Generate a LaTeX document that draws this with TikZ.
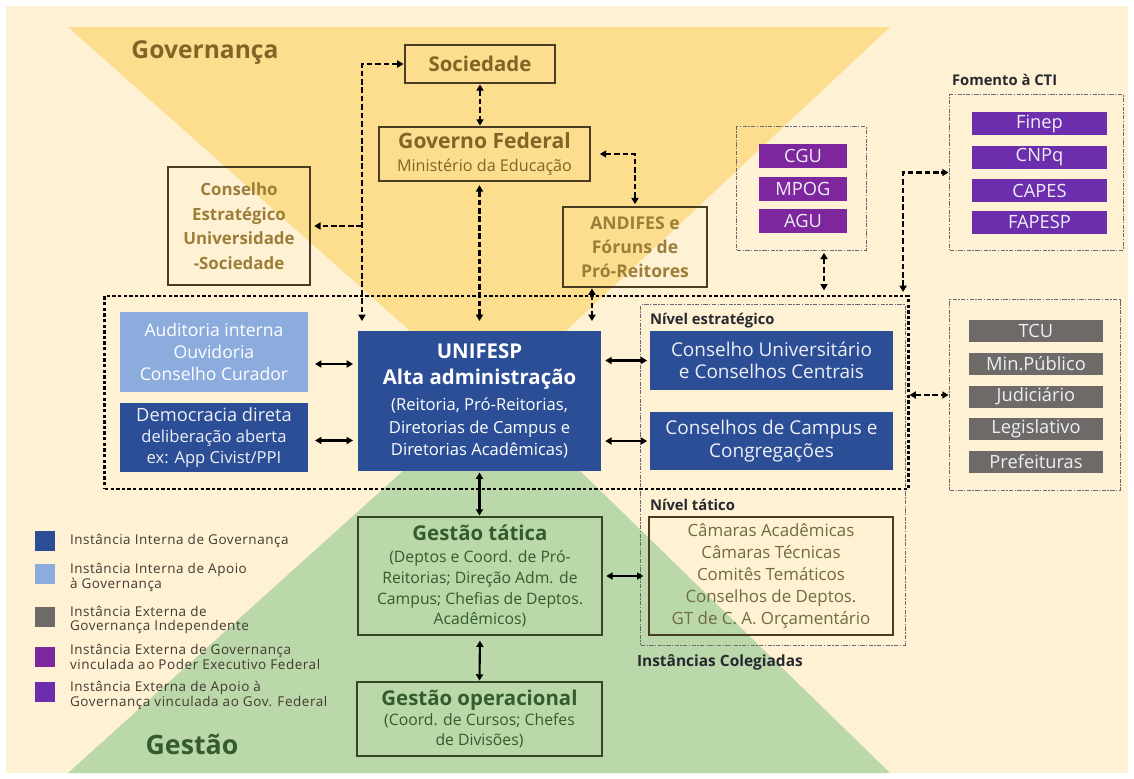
\documentclass[tikz,border=0pt]{standalone}
\usepackage{fontspec}
\setmainfont{Open Sans}
\usetikzlibrary{arrows.meta,calc}
\definecolor{cream}{RGB}{254,241,212}
\definecolor{gyellow}{RGB}{252,222,142}
\definecolor{ggreen}{RGB}{186,216,170}
\definecolor{dblue}{RGB}{44,78,150}
\definecolor{lblue}{RGB}{140,172,222}
\definecolor{egray}{RGB}{110,106,104}
\definecolor{mpurple}{RGB}{126,38,158}
\definecolor{vpurple}{RGB}{108,46,172}
\definecolor{bbrown}{RGB}{72,60,36}
\definecolor{tbrown}{RGB}{130,100,38}
\definecolor{tbrownl}{RGB}{156,126,56}
\definecolor{tgreen}{RGB}{52,92,44}
\definecolor{bgreen}{RGB}{52,72,40}
\definecolor{tolive}{RGB}{112,108,62}
\definecolor{lwhite}{RGB}{238,238,246}
\definecolor{dgray}{RGB}{105,105,118}
\definecolor{ltext}{RGB}{66,58,50}
\definecolor{labc}{RGB}{40,40,48}
\begin{document}
\begin{tikzpicture}[x=0.025cm,y=-0.025cm,
  every node/.style={inner sep=0pt, outer sep=0pt},
  >={Triangle[length=4.5pt,width=5pt]},
  ybox/.style={draw=bbrown, line width=1.6pt, align=center, text=tbrown},
  gbox/.style={draw=bgreen, line width=1.6pt, align=center, text=tgreen},
  fillbox/.style={fill=#1, align=center, text=lwhite},
  smallbox/.style={fillbox=#1, font=\fontsize{13}{15}\selectfont},
  grp/.style={draw=dgray, line width=0.7pt, dash pattern=on 3pt off 1pt on 1pt off 1pt},
  darr/.style={line width=1.9pt, dash pattern=on 4pt off 2pt, <->},
  sarr/.style={line width=1.5pt, <->},
  lab/.style={font=\bfseries\fontsize{10.5}{12}\selectfont, text=labc, anchor=west},
  leg/.style={anchor=west, align=left, font=\fontsize{9.6}{9.4}\selectfont\addfontfeatures{LetterSpace=4}, text=ltext},
  sq/.style={fill=#1, minimum size=0.5cm},
]
% background
\fill[white] (0,0) rectangle (1134,778);
\fill[cream] (6,6) rectangle (1128,773);
\fill[gyellow] (68,27) -- (890,27) -- (490,402) -- cycle;
\fill[ggreen] (68,773) -- (890,773) -- (495,388) -- cycle;

\node[font=\bfseries\fontsize{17.5}{20}\selectfont, text=tbrown] (tgov) at (205,53) {Governança};
\node[font=\bfseries\fontsize{19}{22}\selectfont, text=tgreen] (tges) at (192,745) {Gestão};

% top boxes
\node[ybox, minimum width=3.75cm, minimum height=0.95cm, font=\bfseries\fontsize{14.5}{16}\selectfont] (soc) at (480,64) {Sociedade};
\node[ybox, minimum width=5.275cm, minimum height=1.35cm, font=\fontsize{11.5}{16.3}\selectfont] (gov) at (484.5,154)
  {{\bfseries\fontsize{15}{17}\selectfont Governo Federal}\\{Ministério da Educação}};
\node[ybox, text=tbrownl, minimum width=3.55cm, minimum height=2.95cm, font=\bfseries\fontsize{12}{17.4}\selectfont] (cons) at (239,226)
  {Conselho\\Estratégico\\Universidade\\-Sociedade};
\node[ybox, text=tbrownl, minimum width=3.6cm, minimum height=2.0cm, font=\bfseries\fontsize{12.5}{17}\selectfont] (andifes) at (635,247)
  {ANDIFES e\\Fóruns de\\Pró-Reitores};

% external groups
\node[grp, minimum width=3.225cm, minimum height=3.075cm] (cgugrp) at (801.5,188.5) {};
\node[smallbox=mpurple, minimum width=2.2cm, minimum height=0.6cm] (cgu) at (803,156) {CGU};
\node[smallbox=mpurple, minimum width=2.2cm, minimum height=0.6cm] (mpog) at (803,188.5) {MPOG};
\node[smallbox=mpurple, minimum width=2.2cm, minimum height=0.6cm] (agu) at (803,221) {AGU};

\node[lab] (lfom) at (952,80) {Fomento à CTI};
\node[grp, minimum width=4.325cm, minimum height=3.875cm] (fomgrp) at (1036.5,172.5) {};
\node[smallbox=vpurple, minimum width=3.375cm, minimum height=0.575cm] (finep) at (1039.5,123.5) {Finep};
\node[smallbox=vpurple, minimum width=3.375cm, minimum height=0.575cm] (cnpq) at (1039.5,157.5) {CNPq};
\node[smallbox=vpurple, minimum width=3.375cm, minimum height=0.575cm] (capes) at (1039.5,190.5) {CAPES};
\node[smallbox=vpurple, minimum width=3.375cm, minimum height=0.575cm] (fapesp) at (1039.5,222) {FAPESP};

\node[grp, minimum width=4.25cm, minimum height=4.75cm] (tcugrp) at (1035,395) {};
\node[smallbox=egray, minimum width=3.35cm, minimum height=0.55cm] (tcu) at (1036,330.5) {TCU};
\node[smallbox=egray, minimum width=3.35cm, minimum height=0.55cm] (minp) at (1036,364) {Min.Público};
\node[smallbox=egray, minimum width=3.35cm, minimum height=0.55cm] (jud) at (1036,396.5) {Judiciário};
\node[smallbox=egray, minimum width=3.35cm, minimum height=0.55cm] (leg) at (1036,429) {Legislativo};
\node[smallbox=egray, minimum width=3.35cm, minimum height=0.55cm] (pref) at (1036,462) {Prefeituras};

% colegiadas group
\node[grp, minimum width=6.6cm, minimum height=8.5cm] (coleg) at (773,475) {};
\node[lab] (lest) at (650,321) {Nível estratégico};
\node[lab] (ltat) at (650,505) {Nível tático};
\node[lab, font=\bfseries\fontsize{11}{12}\selectfont] (lcol) at (637,662) {Instâncias Colegiadas};

% core
\node[fillbox=lblue, text=white, minimum width=4.7cm, minimum height=2.0cm, font=\fontsize{12.5}{15.6}\selectfont] (audit) at (214,352)
  {Auditoria interna\\Ouvidoria\\Conselho Curador};
\node[fillbox=dblue, minimum width=4.7cm, minimum height=1.725cm, font=\fontsize{11.8}{15}\selectfont] (demo) at (214,437.5)
  {{\fontsize{13}{15}\selectfont Democracia direta}\\deliberação aberta\\ex: App Civist/PPI};
\node[fillbox=dblue, text=white, minimum width=6.075cm, minimum height=3.5cm, font=\fontsize{11.8}{16}\selectfont] (unifesp) at (479.5,401)
  {{\bfseries\fontsize{14.5}{17}\selectfont UNIFESP}\\[2.5pt]{\bfseries\fontsize{14.5}{17}\selectfont Alta administração}\\[2.5pt](Reitoria, Pró-Reitorias,\\Diretorias de Campus e\\Diretorias Acadêmicas)};
\node[fillbox=dblue, minimum width=6.075cm, minimum height=1.475cm, font=\fontsize{13.5}{15.8}\selectfont] (consu) at (771.5,360.5)
  {Conselho Universitário\\e Conselhos Centrais};
\node[fillbox=dblue, minimum width=6.075cm, minimum height=1.45cm, font=\fontsize{13.5}{15.8}\selectfont] (concamp) at (771.5,441)
  {Conselhos de Campus e\\Congregações};
\node[draw, line width=2pt, dash pattern=on 2.4pt off 1.6pt, minimum width=20.075cm, minimum height=4.825cm] (core) at (506.5,392.5) {};

% gestao
\node[gbox, minimum width=6.1cm, minimum height=2.95cm, font=\fontsize{11.2}{14.8}\selectfont] (gtat) at (480,576)
  {{\bfseries\fontsize{14.5}{17}\selectfont Gestão tática}\\[1pt](Deptos e Coord. de Pró-\\Reitorias; Direção Adm. de\\Campus; Chefias de Deptos.\\Acadêmicos)};
\node[gbox, minimum width=6.125cm, minimum height=1.85cm, font=\fontsize{11.2}{14.5}\selectfont] (gop) at (479.5,719)
  {{\bfseries\fontsize{14.5}{17}\selectfont Gestão operacional}\\[0pt](Coord. de Cursos; Chefes\\de Divisões)};
\node[ybox, text=tolive, minimum width=6.1cm, minimum height=2.95cm, font=\fontsize{12}{15.5}\selectfont] (ntat) at (771,576)
  {Câmaras Acadêmicas\\Câmaras Técnicas\\Comitês Temáticos\\Conselhos de Deptos.\\GT de C. A. Orçamentário};

% legend
\node[sq=dblue] (sq1) at (45,541) {};
\node[sq=lblue] (sq2) at (45,574) {};
\node[sq=egray] (sq3) at (45,617) {};
\node[sq=mpurple] (sq4) at (45,657) {};
\node[sq=vpurple] (sq5) at (45,692) {};
\node[leg] (lg1) at (70,541) {Instância Interna de Governança};
\node[leg] (lg2) at (70,577) {Instância Interna de Apoio\\à Governança};
\node[leg] (lg3) at (70,620) {Instância Externa de\\Governança Independente};
\node[leg] (lg4) at (70,657) {Instância Externa de Governança\\vinculada ao Poder Executivo Federal};
\node[leg] (lg5) at (70,695) {Instância Externa de Apoio à\\Governança vinculada ao Gov. Federal};

% connectors
\coordinate (sv) at ($(unifesp.north west)+(4,-10)$);
\coordinate (jn) at (cons.east -| sv);
\draw[darr, shorten <=1pt] (soc.west) -| (sv);
\draw[darr, -> , shorten >=3pt] (jn) -- (cons.east);
\draw[darr, shorten <=1pt, shorten >=1pt] (soc.south) -- (soc.south |- gov.north);
\coordinate (gu) at ($(unifesp.north)+(0,-10)$);
\draw[darr, shorten <=3pt] (gu |- gov.south) -- (gu);
\draw[darr, shorten <=7pt, shorten >=2pt] (gov.east) -| (andifes.north);
\coordinate (andb) at ($(andifes.south west)+(29,34)$);
\draw[darr, shorten <=1pt] (andb |- andifes.south) -- (andb);
\coordinate (cgux) at ($(cgugrp.south)+(22.5,0)$);
\draw[darr, shorten <=2pt, shorten >=4pt] (cgux) -- (cgux |- core.north);
\coordinate (fc) at ($(core.north east)+(-5,-4)$);
\draw[darr, shorten >=1pt] (fc) |- (fomgrp.west);
\draw[darr, shorten <=1pt, shorten >=1pt] (core.east |- tcugrp.west) -- (tcugrp.west);

\coordinate (a1) at ($(audit.east)+(0,12)$);
\draw[sarr, shorten <=5pt, shorten >=3.5pt] (a1) -- (a1 -| unifesp.west);
\coordinate (a2) at ($(demo.east)+(0,3)$);
\draw[sarr, shorten <=5pt, shorten >=3.5pt] (a2) -- (a2 -| unifesp.west);
\draw[sarr, shorten <=3pt, shorten >=2pt] (consu.west -| unifesp.east) -- (consu.west);
\draw[sarr, shorten <=3pt, shorten >=2pt] (concamp.west -| unifesp.east) -- (concamp.west);
\draw[sarr, shorten <=1pt, shorten >=1pt] (unifesp.south) -- (unifesp.south |- gtat.north);
\draw[sarr, shorten <=3pt, shorten >=4pt] (gtat.east) -- (ntat.west);
\draw[sarr, shorten <=4pt, shorten >=1pt] (gtat.south) -- (gop.north);
\end{tikzpicture}
\end{document}
